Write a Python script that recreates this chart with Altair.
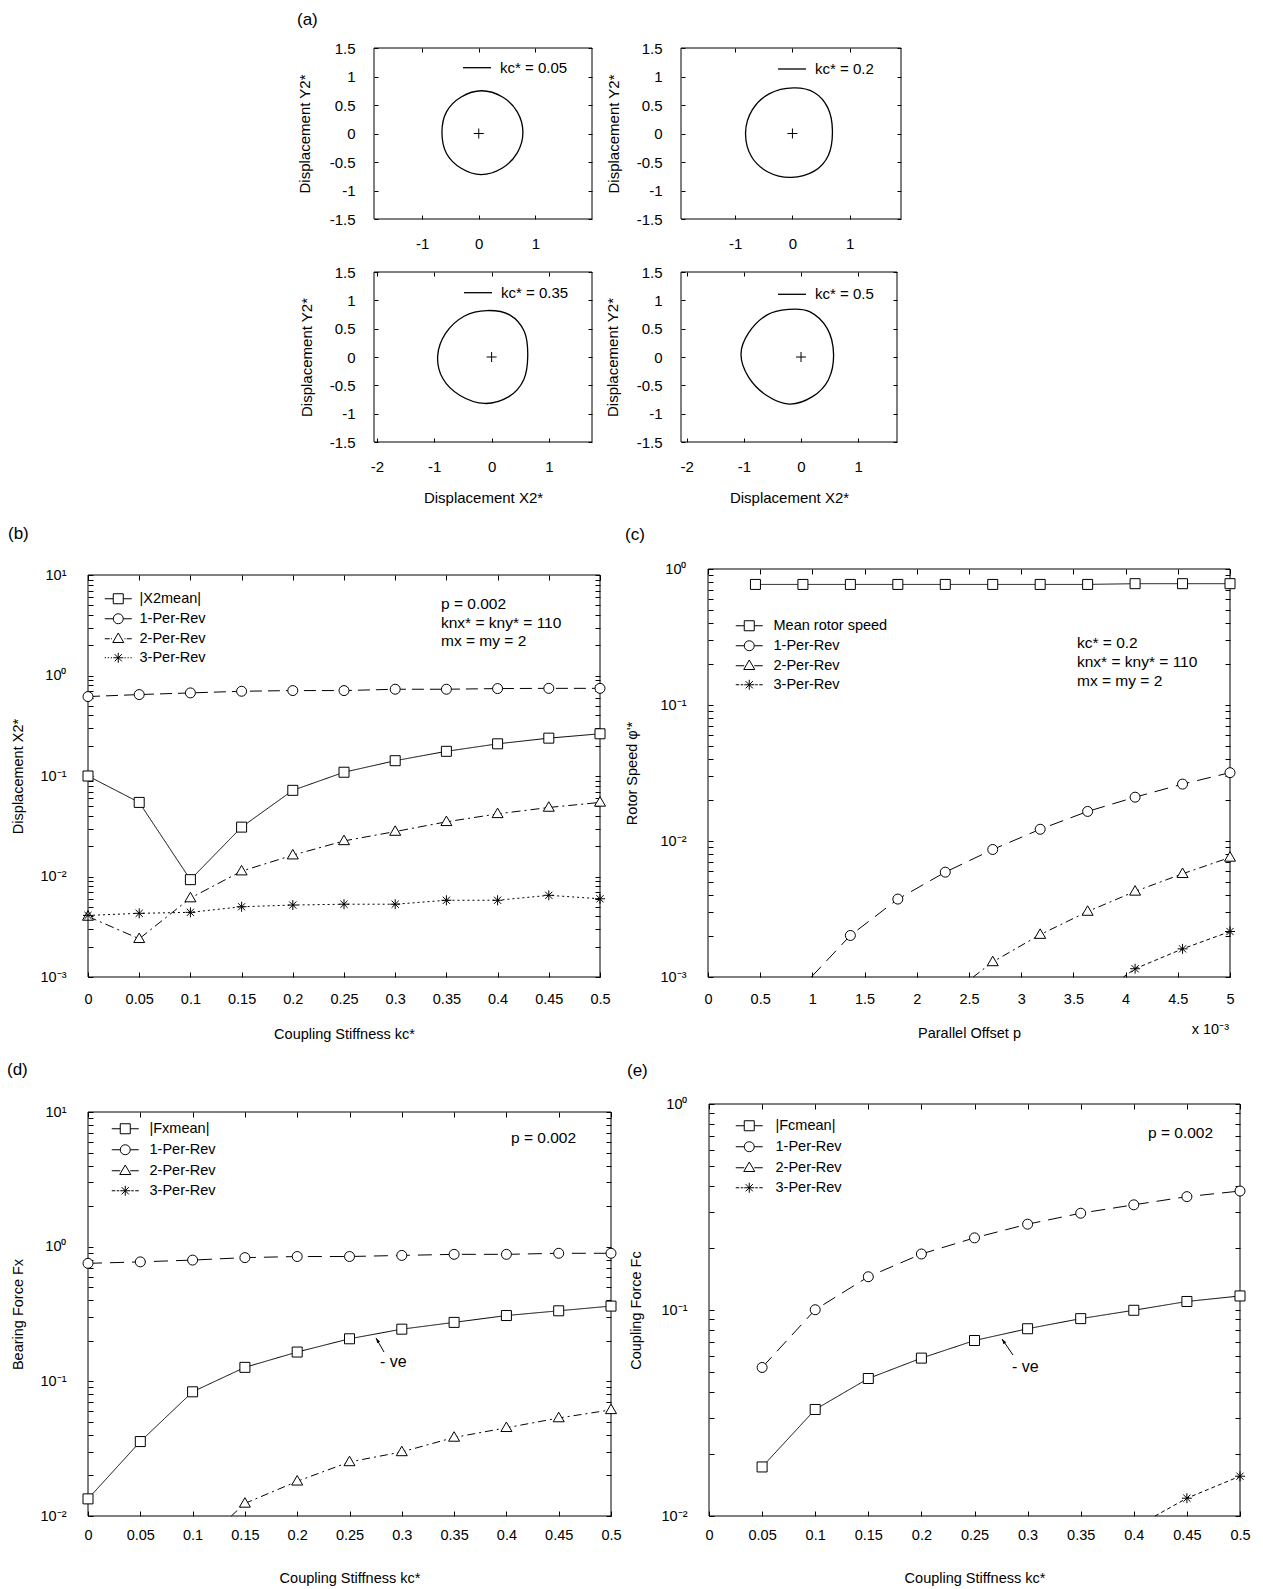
import math
import altair as alt
import pandas as pd

FONT = "Liberation Sans, Arial, Helvetica, sans-serif"
W, H = 1263, 1589

# ---------------- (a) orbit data ----------------
A1_X = [0.78, 0.68, 0.42, 0.05, -0.31, -0.57, -0.65, -0.57, -0.31, 0.04, 0.41, 0.68]
A1_Y = [0.02, 0.38, 0.64, 0.75, 0.64, 0.38, 0.02, -0.35, -0.61, -0.72, -0.61, -0.34]
A2_X = [0.70, 0.62, 0.38, 0.02, -0.40, -0.70, -0.82, -0.72, -0.42, -0.02, 0.38, 0.63]
A2_Y = [0.05, 0.45, 0.72, 0.80, 0.70, 0.42, 0.02, -0.40, -0.68, -0.77, -0.66, -0.38]
A3_X = [0.63, 0.57, 0.32, -0.08, -0.48, -0.80, -0.94, -0.85, -0.55, -0.12, 0.30, 0.56]
A3_Y = [0.02, 0.45, 0.74, 0.82, 0.72, 0.42, 0.02, -0.38, -0.68, -0.82, -0.70, -0.40]
A4_X = [0.57, 0.46, 0.15, -0.22, -0.60, -0.92, -1.05, -0.92, -0.60, -0.20, 0.20, 0.48]
A4_Y = [0.05, 0.50, 0.80, 0.84, 0.74, 0.42, 0.05, -0.35, -0.68, -0.83, -0.70, -0.40]
A_LABELS = ["kc* = 0.05", "kc* = 0.2", "kc* = 0.35", "kc* = 0.5"]
A_YTICKS = [-1.5, -1, -0.5, 0, 0.5, 1, 1.5]
A_XTICKS_TOP = [-1, 0, 1]
A_XTICKS_BOTTOM = [-2, -1, 0, 1]
A_CENTER = [0.0]

# ---------------- (b) displacement vs kc ----------------
KC = [0, 0.05, 0.1, 0.15, 0.2, 0.25, 0.3, 0.35, 0.4, 0.45, 0.5]
B_X2MEAN = [0.100, 0.0546, 0.0093, 0.031, 0.072, 0.109, 0.142, 0.176, 0.209, 0.238, 0.263]
B_1PR = [0.617, 0.646, 0.671, 0.697, 0.708, 0.708, 0.730, 0.730, 0.741, 0.745, 0.745]
B_2PR = [0.0040, 0.0024, 0.0061, 0.0113, 0.0163, 0.0226, 0.028, 0.035, 0.042, 0.0486, 0.0546]
B_3PR = [0.0041, 0.0043, 0.0044, 0.0050, 0.0052, 0.0053, 0.0053, 0.0058, 0.0058, 0.0065, 0.0060]
B_SERIES = ["|X2mean|", "1-Per-Rev", "2-Per-Rev", "3-Per-Rev"]

# ---------------- (c) rotor speed vs parallel offset (x in 1e-3) ----------------
C_P = [0.4545, 0.9091, 1.3636, 1.8182, 2.2727, 2.7273, 3.1818, 3.6364, 4.0909, 4.5455, 5.0]
C_MEAN = [0.77, 0.77, 0.77, 0.77, 0.77, 0.77, 0.77, 0.77, 0.78, 0.78, 0.78]
C_1PR_P = [1.3636, 1.8182, 2.2727, 2.7273, 3.1818, 3.6364, 4.0909, 4.5455, 5.0]
C_1PR = [0.00202, 0.00374, 0.0059, 0.00866, 0.0122, 0.0165, 0.0210, 0.0262, 0.0318]
C_2PR_P = [2.7273, 3.1818, 3.6364, 4.0909, 4.5455, 5.0]
C_2PR = [0.00129, 0.00205, 0.00303, 0.00426, 0.00574, 0.00757]
C_3PR_P = [4.0909, 4.5455, 5.0]
C_3PR = [0.00115, 0.00161, 0.00216]
# where the curves come in through the bottom of the frame
C_ENTRY_P = [0.99, 2.54, 3.98]
C_ENTRY_Y = [0.001, 0.001, 0.001]
C_SERIES = ["Mean rotor speed", "1-Per-Rev", "2-Per-Rev", "3-Per-Rev"]
C_XTICKS = [0, 0.5, 1, 1.5, 2, 2.5, 3, 3.5, 4, 4.5, 5]

# ---------------- (d) bearing force ----------------
D_FXMEAN = [0.0134, 0.0357, 0.0836, 0.127, 0.165, 0.207, 0.244, 0.274, 0.308, 0.334, 0.362]
D_1PR = [0.752, 0.771, 0.795, 0.829, 0.845, 0.845, 0.861, 0.877, 0.877, 0.893, 0.893]
D_2PR_KC = [0.15, 0.2, 0.25, 0.3, 0.35, 0.4, 0.45, 0.5]
D_2PR = [0.0124, 0.0181, 0.0252, 0.0299, 0.0383, 0.0452, 0.0534, 0.0614]
D_ENTRY_KC = [0.137]
D_ENTRY_Y = [0.01]
D_SERIES = ["|Fxmean|", "1-Per-Rev", "2-Per-Rev", "3-Per-Rev"]

# ---------------- (e) coupling force ----------------
E_KC = [0.05, 0.1, 0.15, 0.2, 0.25, 0.3, 0.35, 0.4, 0.45, 0.5]
E_FCMEAN = [0.0173, 0.0329, 0.0465, 0.0584, 0.0711, 0.0811, 0.0908, 0.0997, 0.110, 0.117]
E_1PR = [0.0526, 0.1003, 0.145, 0.187, 0.224, 0.261, 0.295, 0.324, 0.355, 0.378]
E_3PR_KC = [0.45, 0.5]
E_3PR = [0.0122, 0.0156]
E_ENTRY_KC = [0.42]
E_ENTRY_Y = [0.01]
E_SERIES = ["|Fcmean|", "1-Per-Rev", "2-Per-Rev", "3-Per-Rev"]

# ---------------- marker / legend symbols ----------------
SQ = "M-1,-1H1V1H-1Z"
CI = "M-1,0A1,1,0,1,1,1,0A1,1,0,1,1,-1,0Z"
TR = "M0,-1.15L1.1,0.75L-1.1,0.75Z"
ST = "M0,-1V1M-1,0H1M-0.72,-0.72L0.72,0.72M-0.72,0.72L0.72,-0.72"
CROSS = "M-1,0H1M0,-1V1"
SOLID_SEG = "M-2.7,0H-1M1,0H2.7"
DASHDOT_SEG = "M-2.7,0H-1.7M-1.45,0H-1.25M1.25,0H1.45M1.7,0H2.7"
DOT_SEG = "M-2.7,0H-2.45M-2.1,0H-1.85M-1.5,0H-1.25M1.25,0H1.5M1.85,0H2.1M2.45,0H2.7"
DASH_SEG = "M-2.7,0H-2.0M-1.7,0H-1.2M1.2,0H1.7M2.0,0H2.7"
MARKERS = [SQ, CI, TR, ST]
LEG_B = [SOLID_SEG + SQ, SOLID_SEG + CI, DASHDOT_SEG + TR, DOT_SEG + ST]
LEG_CDE = [SOLID_SEG + SQ, SOLID_SEG + CI, SOLID_SEG + TR, DASH_SEG + ST]
DASH_B = [[1, 0], [12, 6], [9, 4, 2, 4], [2, 3]]
DASH_CDE = [[1, 0], [14, 8], [8, 4, 2, 4], [4, 3]]

SUPS = {1: "10¹", 0: "10⁰", -1: "10⁻¹", -2: "10⁻²", -3: "10⁻³"}
ONE = pd.DataFrame({"k": [0]})
PLAIN = "'' + datum.value"


def log_ticks(lo, hi):
    vals = []
    for e in range(lo, hi):
        for k in range(1, 10):
            vals.append(float(f"{k}e{e}"))
    vals.append(float(f"1e{hi}"))
    return vals


def log_expr():
    expr = "''"
    for e, s in SUPS.items():
        v = float(f"1e{e}")
        expr = f"(abs(datum.value - {v}) < {v / 1000}) ? '{s}' : {expr}"
    return expr


def axis(orient, values, box, t, size=15, pad=10, labels=True, title=None, tsize=15,
         tx=None, ty=None, expr=PLAIN):
    x0, x1, y0, y1 = box
    off = {"left": -(x0 + t), "right": -(W - x1 + t), "top": -(y0 + t),
           "bottom": -(H - y1 + t)}[orient]
    kw = dict(orient=orient, values=values, domain=False, grid=False, ticks=True,
              tickSize=t, offset=off, tickColor="black", tickWidth=1, labels=labels)
    if labels:
        kw.update(labelFont=FONT, labelFontSize=size, labelColor="black", labelPadding=pad,
                  labelFlush=False, labelOverlap=False, labelAngle=0, labelExpr=expr)
    if title:
        kw.update(title=title, titleFont=FONT, titleFontSize=tsize, titleFontWeight="normal",
                  titleColor="black", titleBaseline="middle", titleAlign="center", titlePadding=0,
                  titleX=tx, titleY=ty)
        if orient == "left":
            kw["titleAngle"] = 270
    else:
        kw["title"] = None
    return alt.Axis(**kw)


def text(x, y, s, size=15, align="left", baseline="middle", lh=None):
    kw = dict(align=align, baseline=baseline, font=FONT, fontSize=size, color="black")
    if lh:
        kw.update(lineBreak="\n", lineHeight=lh)
    return alt.Chart(ONE).mark_text(**kw).encode(x=alt.value(x), y=alt.value(y), text=alt.value(s))


def arrow(tail, head, angle):
    r = alt.Chart(ONE).mark_rule(color="black", strokeWidth=1).encode(
        x=alt.value(tail[0]), y=alt.value(tail[1]), x2=alt.value(head[0]), y2=alt.value(head[1]))
    h = alt.Chart(ONE).mark_point(shape="M0,0L0.55,1.7L-0.55,1.7Z", size=36, filled=True,
                                  color="black", opacity=1, angle=angle).encode(
        x=alt.value(head[0]), y=alt.value(head[1]))
    return [r, h]


def frame(xs, ys, xdom, ydom):
    df = pd.DataFrame({"x": [xdom[0]], "x2": [xdom[1]], "y": [ydom[0]], "y2": [ydom[1]]})
    return alt.Chart(df).mark_rect(filled=False, color="black", strokeWidth=1).encode(
        x=alt.X("x:Q", scale=xs, axis=None), x2="x2:Q",
        y=alt.Y("y:Q", scale=ys, axis=None), y2="y2:Q")


def orbit_panel(xv, yv, label, xdom, xticks, box, xtitle, xlab_pad, ytx, leg_xy):
    x0, x1, y0, y1 = box
    df = pd.DataFrame({"x": xv, "y": yv, "i": list(range(len(xv))), "label": [label] * len(xv)})
    xs = alt.Scale(domain=xdom, range=[x0, x1], nice=False, zero=False)
    ys = alt.Scale(domain=[-1.5, 1.5], range=[y1, y0], nice=False, zero=False)
    xa = axis("bottom", xticks, box, 4, 15, xlab_pad, title=xtitle, tsize=15,
              tx=(x0 + x1) / 2, ty=497.5 - (y1 - 4))
    ya = axis("left", A_YTICKS, box, 4, 15, 19, title="Displacement Y2*", tsize=15,
              tx=ytx - (x0 + 4), ty=(y0 + y1) / 2)
    line = alt.Chart(df).mark_line(interpolate="cardinal-closed", strokeWidth=1.3).encode(
        x=alt.X("x:Q", scale=xs, axis=xa),
        y=alt.Y("y:Q", scale=ys, axis=ya),
        order=alt.Order("i:Q"),
        color=alt.Color("label:N", scale=alt.Scale(domain=[label], range=["black"]),
                        legend=alt.Legend(orient="none", legendX=leg_xy[0], legendY=leg_xy[1],
                                          title=None, symbolType="stroke", symbolSize=784,
                                          symbolStrokeWidth=1.3, labelFont=FONT, labelFontSize=15,
                                          labelColor="black", labelOffset=8, padding=0)))
    cdf = pd.DataFrame({"x": A_CENTER, "y": A_CENTER})
    cross = alt.Chart(cdf).mark_point(shape=CROSS, size=100, filled=False, color="black",
                                      opacity=1, strokeWidth=1).encode(
        x=alt.X("x:Q", scale=xs, axis=axis("top", xticks, box, 4, labels=False)),
        y=alt.Y("y:Q", scale=ys, axis=axis("right", A_YTICKS, box, 4, labels=False)))
    return alt.layer(frame(xs, ys, xdom, [-1.5, 1.5]), line, cross).resolve_axis(
        x="independent", y="independent")


def log_panel(line_df, pt_df, order, dashes, leg_paths, xdom, xticks, ydom, box, xtitle, ytitle,
              xt, yt, leg, xpad, extra=()):
    x0, x1, y0, y1 = box
    lo = round(math.log10(ydom[0]))
    hi = round(math.log10(ydom[1]))
    yvals = log_ticks(lo, hi)
    xs = alt.Scale(domain=xdom, range=[x0, x1], nice=False, zero=False)
    ys = alt.Scale(type="log", domain=ydom, range=[y1, y0], nice=False)
    lines = alt.Chart(line_df).mark_line(color="black", strokeWidth=1).encode(
        x=alt.X("x:Q", scale=xs, axis=axis("bottom", xticks, box, 5, 14.5, xpad, title=xtitle,
                                             tsize=14.5, tx=xt[0], ty=xt[1] - (y1 - 5))),
        y=alt.Y("y:Q", scale=ys, axis=axis("left", yvals, box, 5, 14.5, 22, title=ytitle,
                                             tsize=14.5, tx=yt[0] - (x0 + 5), ty=yt[1],
                                             expr=log_expr())),
        strokeDash=alt.StrokeDash("series:N", scale=alt.Scale(domain=order, range=dashes),
                                  legend=None),
        order=alt.Order("x:Q"))
    pts = alt.Chart(pt_df).mark_point(filled=True, fill="white", stroke="black", strokeWidth=1,
                                      size=100, opacity=1).encode(
        x=alt.X("x:Q", scale=xs, axis=axis("top", xticks, box, 5, labels=False)),
        y=alt.Y("y:Q", scale=ys, axis=axis("right", yvals, box, 5, labels=False)),
        shape=alt.Shape("series:N", scale=alt.Scale(domain=order, range=MARKERS), legend=None))
    lx, ly, loff, rp = leg
    legl = alt.Chart(pt_df).transform_filter("false").mark_point(
        filled=False, color="black", strokeWidth=1, size=100, opacity=1).encode(
        shape=alt.Shape("series:N", scale=alt.Scale(domain=order, range=leg_paths),
                        legend=alt.Legend(orient="none", legendX=lx, legendY=ly, title=None,
                                          padding=0, symbolSize=100, symbolStrokeWidth=1,
                                          symbolStrokeColor="black", symbolOpacity=1,
                                          labelFont=FONT, labelFontSize=14.5, labelColor="black",
                                          labelOffset=loff, rowPadding=rp, labelLimit=300)))
    return alt.layer(frame(xs, ys, xdom, ydom), lines, pts, legl, *extra).resolve_axis(
        x="independent", y="independent").resolve_scale(shape="independent")


def long_df(pairs):
    rows = []
    for name, xs, ys in pairs:
        for a, b in zip(xs, ys):
            rows.append({"x": a, "y": b, "series": name})
    return pd.DataFrame(rows)


# ---------------- panel (a) ----------------
a1 = orbit_panel(A1_X, A1_Y, A_LABELS[0], [-1.85, 2.0], A_XTICKS_TOP, (374, 592, 48, 219),
                 None, 17, 304, (462, 52.7))
a2 = orbit_panel(A2_X, A2_Y, A_LABELS[1], [-1.95, 1.9], A_XTICKS_TOP, (681, 901, 48, 219),
                 None, 17, 613, (777, 54))
a3 = orbit_panel(A3_X, A3_Y, A_LABELS[2], [-2.05, 1.75], A_XTICKS_BOTTOM, (374, 592, 272, 442),
                 "Displacement X2*", 17, 306, (463, 277.7))
a4 = orbit_panel(A4_X, A4_Y, A_LABELS[3], [-2.1, 1.68], A_XTICKS_BOTTOM, (681, 897, 272, 442),
                 "Displacement X2*", 17, 612, (777, 279.3))

# ---------------- panel (b) ----------------
dfb = long_df([(B_SERIES[0], KC, B_X2MEAN), (B_SERIES[1], KC, B_1PR),
               (B_SERIES[2], KC, B_2PR), (B_SERIES[3], KC, B_3PR)])
pb = log_panel(dfb, dfb, B_SERIES, DASH_B, LEG_B, [0, 0.5], KC, [1e-3, 1e1], (88, 600, 575, 977),
               "Coupling Stiffness kc*", "Displacement X2*", (344, 1034), (18, 776),
               (111, 591.5, 14, 4), 15,
               extra=[text(441, 597, "p = 0.002\nknx* = kny* = 110\nmx = my = 2", size=15.5,
                           baseline="top", lh=18.5)])

# ---------------- panel (c) ----------------
dfc_pts = long_df([(C_SERIES[0], C_P, C_MEAN), (C_SERIES[1], C_1PR_P, C_1PR),
                   (C_SERIES[2], C_2PR_P, C_2PR), (C_SERIES[3], C_3PR_P, C_3PR)])
dfc_lines = pd.concat([dfc_pts, long_df([(s, [p], [v]) for s, p, v in
                                         zip(C_SERIES[1:], C_ENTRY_P, C_ENTRY_Y)])],
                      ignore_index=True)
pc = log_panel(dfc_lines, dfc_pts, C_SERIES, DASH_CDE, LEG_CDE, [0, 5], C_XTICKS, [1e-3, 1e0],
               (708, 1230, 569, 977), "Parallel Offset p", "Rotor Speed φ'*", (969, 1033),
               (632, 773), (742, 618.5, 17, 4), 15,
               extra=[text(1077, 636, "kc* = 0.2\nknx* = kny* = 110\nmx = my = 2", size=15.5,
                           baseline="top", lh=19),
                      text(1229, 1030, "x 10⁻³", size=14.5, align="right")])

# ---------------- panel (d) ----------------
dfd_pts = long_df([(D_SERIES[0], KC, D_FXMEAN), (D_SERIES[1], KC, D_1PR),
                   (D_SERIES[2], D_2PR_KC, D_2PR)])
dfd_lines = pd.concat([dfd_pts, long_df([(D_SERIES[2], D_ENTRY_KC, D_ENTRY_Y)])],
                      ignore_index=True)
pdd = log_panel(dfd_lines, dfd_pts, D_SERIES, DASH_CDE, LEG_CDE, [0, 0.5], KC, [1e-2, 1e1],
                (88, 611, 1112, 1516), "Coupling Stiffness kc*", "Bearing Force Fx",
                (349.5, 1578), (18, 1314), (118, 1121.5, 17, 5), 12,
                extra=[text(511, 1130.5, "p = 0.002", size=15.5, baseline="top"),
                       text(380, 1362, "- ve", size=16)] + arrow((384, 1352), (376, 1338), 329))

# ---------------- panel (e) ----------------
dfe_pts = long_df([(E_SERIES[0], E_KC, E_FCMEAN), (E_SERIES[1], E_KC, E_1PR),
                   (E_SERIES[3], E_3PR_KC, E_3PR)])
dfe_lines = pd.concat([dfe_pts, long_df([(E_SERIES[3], E_ENTRY_KC, E_ENTRY_Y)])],
                      ignore_index=True)
pe = log_panel(dfe_lines, dfe_pts, E_SERIES, DASH_CDE, LEG_CDE, [0, 0.5], KC, [1e-2, 1e0],
               (709, 1240, 1104, 1516), "Coupling Stiffness kc*", "Coupling Force Fc",
               (974.5, 1578), (636, 1310), (742, 1118.5, 19, 5), 12,
               extra=[text(1148, 1126, "p = 0.002", size=15.5, baseline="top"),
                      text(1012, 1367, "- ve", size=16)] + arrow((1013, 1355), (1002, 1339), 326))

labels = [text(297, 12, "(a)", size=17, baseline="top"),
          text(8, 534, "(b)", size=17), text(625, 535, "(c)", size=17),
          text(7, 1070, "(d)", size=17), text(627, 1071, "(e)", size=17)]

chart = alt.layer(a1, a2, a3, a4, pb, pc, pdd, pe, *labels).resolve_scale(
    x="independent", y="independent", color="independent", shape="independent",
    strokeDash="independent").resolve_axis(x="independent", y="independent").properties(
    width=W, height=H, padding=0, autosize=alt.AutoSizeParams(type="none")
).configure(font=FONT).configure_view(stroke="transparent")

chart.save("out.html", embed_options={"renderer": "svg", "actions": False})
